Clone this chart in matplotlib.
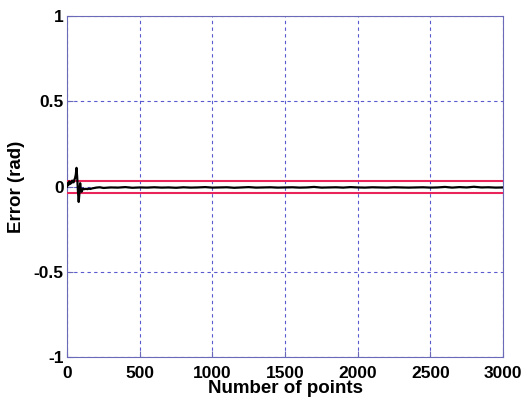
import matplotlib
matplotlib.use("Agg")
import matplotlib.pyplot as plt

# Error trace
n_points = [0, 5, 10, 15, 20, 25, 30, 35, 40, 45, 50, 55, 60, 65, 70, 75, 80,
            85, 90, 95, 100, 110, 120, 130, 140, 150, 160, 175, 190, 200, 225,
            250, 300, 350, 400, 450, 500, 550, 600, 650, 700, 750, 800, 850,
            900, 950, 1000, 1050, 1100, 1150, 1200, 1250, 1300, 1350, 1400,
            1450, 1500, 1550, 1600, 1650, 1700, 1750, 1800, 1850, 1900, 1950,
            2000, 2050, 2100, 2150, 2200, 2250, 2300, 2350, 2400, 2450, 2500,
            2550, 2600, 2650, 2700, 2750, 2800, 2850, 2900, 2950, 3000]
error = [0.0, 0.02, 0.01, 0.03, 0.015, 0.025, 0.02, 0.035, 0.03, 0.025, 0.04,
         0.05, 0.07, 0.11, 0.05, -0.03, -0.09, -0.04, 0.02, -0.02, -0.03,
         -0.012, -0.015, -0.013, -0.015, -0.012, -0.014, -0.01, -0.008,
         -0.006, -0.004, -0.008, -0.005, -0.006, -0.003, -0.007, -0.005,
         -0.006, -0.004, -0.006, -0.005, -0.007, -0.004, -0.006, -0.005,
         -0.003, -0.006, -0.005, -0.004, -0.007, -0.005, -0.003, -0.006,
         -0.005, -0.004, -0.006, -0.005, -0.004, -0.006, -0.005, -0.002,
         -0.006, -0.005, -0.004, -0.006, -0.003, -0.005, -0.006, -0.004,
         -0.005, -0.006, -0.004, -0.005, -0.006, -0.005, -0.004, -0.006,
         -0.005, -0.002, -0.006, -0.003, -0.005, -0.001, -0.005, -0.004,
         -0.006, -0.005]
bound = 0.035
x_ticks = [0, 500, 1000, 1500, 2000, 2500, 3000]
y_ticks = [-1, -0.5, 0, 0.5, 1]
y_tick_labels = ["-1", "-0.5", "0", "0.5", "1"]

plt.rcParams['font.family'] = ['Liberation Sans', 'DejaVu Sans']
fig = plt.figure(figsize=(5.24, 4.03), dpi=100)
ax = fig.add_axes([0.128, 0.114, 0.832, 0.846])

ax.axhline(bound, color='#e8245a', lw=1.5, zorder=3)
ax.axhline(-bound, color='#e8245a', lw=1.5, zorder=3)
ax.plot(n_points, error, color='black', lw=1.6, zorder=4)

ax.set_xlim(0, 3000)
ax.set_ylim(-1, 1)
ax.set_xticks(x_ticks)
ax.set_yticks(y_ticks)
ax.set_yticklabels(y_tick_labels)
ax.grid(True, color='#5a5ad0', linestyle=(0, (3, 3)), lw=0.8)
for s in ax.spines.values():
    s.set_color('#6a6ab8')
ax.tick_params(direction='in', colors='#6a6ab8', labelcolor='black', length=4,
               labelsize=12.5)
ax.tick_params(axis='x', pad=6.5)
ax.tick_params(axis='y', pad=2.5)
for lab in ax.get_xticklabels() + ax.get_yticklabels():
    lab.set_fontweight('bold')
ax.set_xlabel('Number of points', fontsize=13.5, fontweight='bold', labelpad=-1)
ax.set_ylabel('Error (rad)', fontsize=13.5, fontweight='bold', labelpad=6)

fig.savefig('out.png', dpi=100)
